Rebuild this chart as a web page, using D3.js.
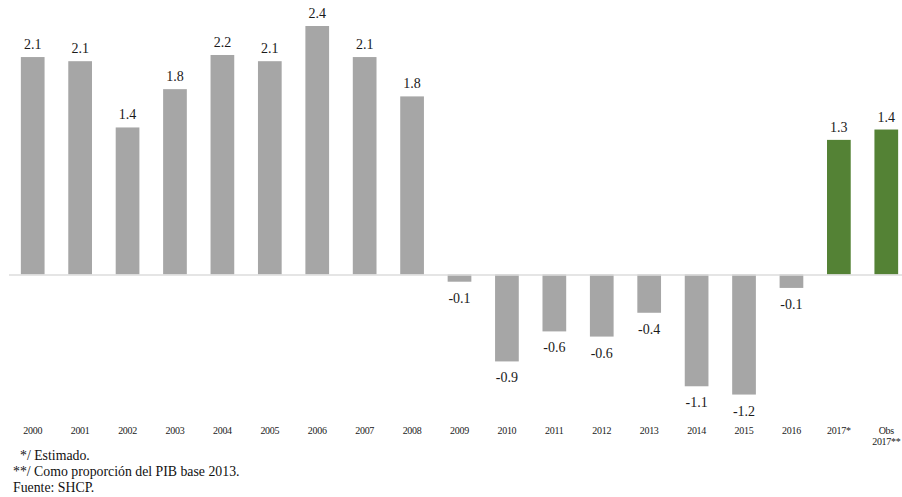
<!DOCTYPE html>
<html>
<head>
<meta charset="utf-8">
<script src="https://cdn.jsdelivr.net/npm/d3@7"></script>
<style>
  html, body { margin: 0; padding: 0; background: #fff; }
  svg { display: block; }
</style>
</head>
<body>
<svg id="chart" width="902" height="497" font-family="'Liberation Serif', 'DejaVu Serif', serif"></svg>
<script>
// ---- data ----
const categories = ["2000","2001","2002","2003","2004","2005","2006","2007","2008","2009",
                    "2010","2011","2012","2013","2014","2015","2016","2017*","Obs 2017**"];
const values = [2.10, 2.06, 1.42, 1.79, 2.12, 2.06, 2.40, 2.10, 1.72, -0.07,
                -0.84, -0.55, -0.60, -0.37, -1.08, -1.16, -0.13, 1.30, 1.40];
const valueLabels = ["2.1","2.1","1.4","1.8","2.2","2.1","2.4","2.1","1.8","-0.1",
                     "-0.9","-0.6","-0.6","-0.4","-1.1","-1.2","-0.1","1.3","1.4"];
const highlighted = ["2017*", "Obs 2017**"];
const footnotes = ["*/ Estimado.", "**/ Como proporción del PIB base 2013.", "Fuente: SHCP."];

// ---- chart ----
const FONT = "'Liberation Serif', 'DejaVu Serif', serif";
const svg = d3.select("#chart");
const x = d3.scaleBand().domain(categories).range([9, 910]).paddingInner(0.5).paddingOuter(0.25);
const y = d3.scaleLinear().domain([-1.3, 2.4]).range([409.05, 26]);

const data = categories.map((c, i) => ({ c, v: values[i], label: valueLabels[i] }));

svg.append("g").selectAll("rect").data(data).join("rect")
  .attr("x", d => x(d.c))
  .attr("width", x.bandwidth())
  .attr("y", d => y(Math.max(0, d.v)))
  .attr("height", d => Math.abs(y(d.v) - y(0)))
  .attr("fill", d => highlighted.includes(d.c) ? "#548235" : "#a6a6a6");

// zero line
svg.append("line")
  .attr("x1", 9).attr("x2", 902)
  .attr("y1", y(0) + 0.5).attr("y2", y(0) + 0.5)
  .attr("stroke", "#dcdcdc").attr("stroke-width", 1.5);

// value labels
svg.append("g").selectAll("text").data(data).join("text")
  .attr("x", d => x(d.c) + x.bandwidth() / 2)
  .attr("y", d => d.v >= 0 ? y(d.v) - 8 : y(d.v) + 21)
  .attr("text-anchor", "middle")
  .attr("font-family", FONT)
  .attr("font-size", 14)
  .attr("fill", "#1a1a1a")
  .text(d => d.label);

// category axis labels
const axisG = svg.append("g");
data.forEach(d => {
  const parts = d.c.split(" ");
  const t = axisG.append("text")
    .attr("x", x(d.c) + x.bandwidth() / 2)
    .attr("y", 434)
    .attr("text-anchor", "middle")
    .attr("font-family", FONT)
    .attr("font-size", 10)
    .attr("letter-spacing", -0.3)
    .attr("fill", "#1a1a1a");
  parts.forEach((p, i) => {
    t.append("tspan").attr("x", x(d.c) + x.bandwidth() / 2).attr("dy", i === 0 ? 0 : 11).text(p);
  });
});

// footnotes
const fx = [20, 13, 13];
const fy = [460, 476, 492];
svg.append("g").selectAll("text").data(footnotes).join("text")
  .attr("x", (d, i) => fx[i])
  .attr("y", (d, i) => fy[i])
  .attr("font-family", FONT)
  .attr("font-size", 13.8)
  .attr("fill", "#111")
  .text(d => d);
</script>
</body>
</html>
